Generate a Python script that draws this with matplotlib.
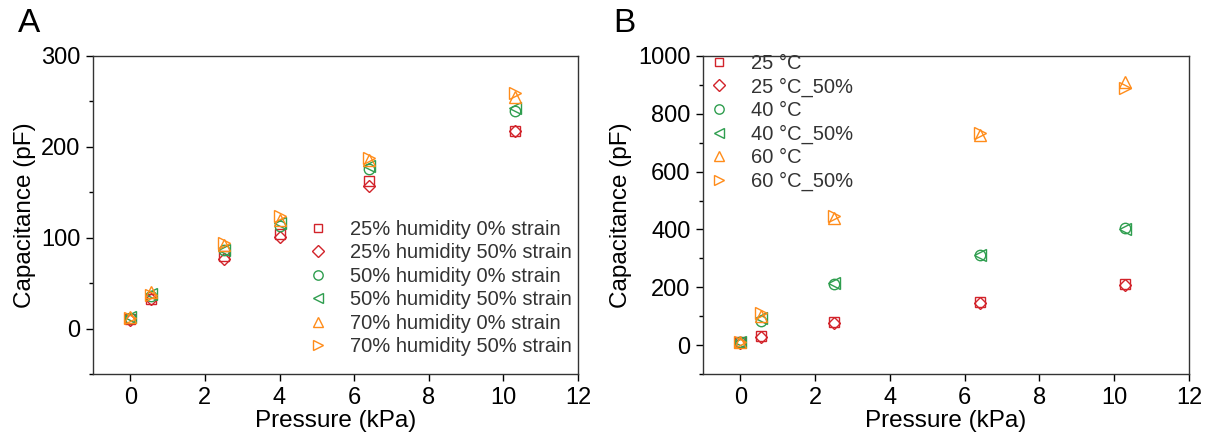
import matplotlib
matplotlib.use("Agg")
import matplotlib.pyplot as plt
from matplotlib.ticker import MultipleLocator

plt.rcParams['font.family'] = ['Liberation Sans', 'DejaVu Sans']

RED = '#d2232a'
GREEN = '#2f9e4f'
ORANGE = '#ff8c1a'

# Panel A data
pressure_a = [0, 0.55, 2.5, 4.0, 6.4, 10.3]
labels_a = ["25% humidity 0% strain", "25% humidity 50% strain",
            "50% humidity 0% strain", "50% humidity 50% strain",
            "70% humidity 0% strain", "70% humidity 50% strain"]
h25_s0 = [10, 33, 80, 104, 162, 218]
h25_s50 = [9, 32, 77, 101, 157, 217]
h50_s0 = [12, 36, 86, 113, 176, 239]
h50_s50 = [13, 38, 86, 116, 179, 243]
h70_s0 = [13, 40, 92, 120, 185, 255]
h70_s50 = [12, 37, 94, 124, 188, 259]

# Panel B data
pressure_b = [0, 0.55, 2.5, 6.4, 10.3]
labels_b = ["25 °C", "25 °C_50%", "40 °C", "40 °C_50%", "60 °C", "60 °C_50%"]
t25 = [10, 30, 80, 150, 210]
t25_50 = [8, 27, 78, 145, 208]
t40 = [10, 85, 210, 310, 405]
t40_50 = [12, 95, 215, 310, 400]
t60 = [12, 100, 440, 725, 910]
t60_50 = [10, 110, 445, 735, 890]

markers = ['s', 'D', 'o', '<', '^', '>']
colors = [RED, RED, GREEN, GREEN, ORANGE, ORANGE]
msizes = [7, 6.5, 7.5, 8, 8.5, 8.5]

fig = plt.figure(figsize=(12.08, 4.36), dpi=100)
axA = fig.add_axes([93/1208, 1-374/436, (578-93)/1208, (374-56)/436])
axB = fig.add_axes([703/1208, 1-374/436, (1189-703)/1208, (374-56)/436])

seriesA = [h25_s0, h25_s50, h50_s0, h50_s50, h70_s0, h70_s50]
seriesB = [t25, t25_50, t40, t40_50, t60, t60_50]

for ax, xs, series, labels in [(axA, pressure_a, seriesA, labels_a),
                               (axB, pressure_b, seriesB, labels_b)]:
    for ys, lab, m, c, ms in zip(series, labels, markers, colors, msizes):
        ax.plot(xs, ys, linestyle='none', marker=m, markersize=ms,
                markerfacecolor='none', markeredgecolor=c, markeredgewidth=1.0, label=lab)
    ax.set_xlim(-1, 12)
    ax.xaxis.set_major_locator(MultipleLocator(2))
    ax.tick_params(axis='both', which='major', direction='out', length=5, width=1,
                   labelsize=17, top=False, right=False, pad=4)
    ax.tick_params(axis='y', which='minor', direction='out', length=3, width=1)
    ax.set_xlabel("Pressure (kPa)", fontsize=17.5, labelpad=1)
    ax.set_ylabel("Capacitance (pF)", fontsize=17.5, labelpad=4)
    for s in ax.spines.values():
        s.set_linewidth(1.0)
        s.set_color('#333333')

axA.set_ylim(-50, 300)
axA.yaxis.set_major_locator(MultipleLocator(100))
axA.yaxis.set_minor_locator(MultipleLocator(50))
axB.set_ylim(-100, 1000)
axB.yaxis.set_major_locator(MultipleLocator(200))
axB.yaxis.set_minor_locator(MultipleLocator(100))

legkw = dict(frameon=False, fontsize=14.5, handlelength=0.9, handletextpad=1.15,
             borderpad=0, borderaxespad=0, labelspacing=0.22, labelcolor='#333333',
             loc='upper left', markerscale=0.9)
axA.legend(bbox_to_anchor=(309/1208, 1-220/436), bbox_transform=fig.transFigure, **legkw)
axB.legend(bbox_to_anchor=(710/1208, 1-54/436), bbox_transform=fig.transFigure, **legkw)

fig.text(18/1208, 1-24/436, "A", fontsize=24, va='center', ha='left')
fig.text(613/1208, 1-24/436, "B", fontsize=24, va='center', ha='left')

fig.savefig("out.png", dpi=100)
